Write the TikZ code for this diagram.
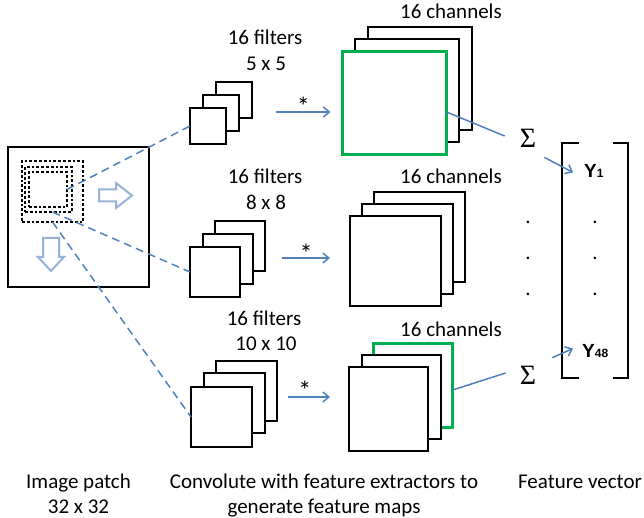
\documentclass[tikz,border=0pt]{standalone}
\usepackage{fontspec}
\setmainfont{Carlito}
\newfontfamily\arialf{Liberation Sans}
\newfontfamily\serf{Liberation Serif}
\usetikzlibrary{arrows.meta,calc}
\definecolor{bline}{RGB}{79,129,189}
\definecolor{gline}{RGB}{0,176,80}
\definecolor{lblue}{RGB}{149,179,215}
\begin{document}
\begin{tikzpicture}[x=1pt,y=-1pt,font=\fontsize{21}{25}\selectfont,
  sq/.style={draw=black,line width=2pt,fill=white,inner sep=0pt,outer sep=0pt},
  gsq/.style={sq,draw=gline,line width=3pt},
  dsq/.style={draw=black,line width=2.8pt,dash pattern=on 2.8pt off 2pt,inner sep=0pt,outer sep=0pt},
  dline/.style={draw=bline,line width=1.5pt,dash pattern=on 8pt off 5pt},
  bl/.style={draw=bline,line width=1.5pt},
  arr/.style={bl,-{Straight Barb[length=6pt,width=10pt]}},
  txt/.style={anchor=base,inner sep=0pt},
  starst/.style={anchor=base,inner sep=0pt,font=\fontsize{26}{26}\selectfont},
  hol/.style={draw=lblue,line width=2pt,line join=miter},
  sumst/.style={font=\serf\fontsize{28}{28}\selectfont,inner sep=0pt},
  yst/.style={anchor=base west,inner sep=0pt,font=\arialf\bfseries\fontsize{19}{19}\selectfont}]
\useasboundingbox (0,0) rectangle (644,518);

% image patch
\node[sq,minimum width=141pt,minimum height=140pt] (patch) at (78.5,217) {};
\node[dsq,minimum width=61pt,minimum height=61pt] (sqA) at (52.5,191.5) {};
\node[dsq,minimum width=47pt,minimum height=45pt] (sqB) at (48.5,189.5) {};
\node[dsq,minimum width=38pt,minimum height=35pt] (sqC) at (48,189.5) {};
\draw[hol] (99,189.5) -- (116,189.5) -- (116,183) -- (132,195.5) -- (116,208) -- (116,201.5) -- (99,201.5) -- cycle;
\draw[hol] (43,238) -- (59,238) -- (59,257) -- (64,257) -- (51,271) -- (38,257) -- (43,257) -- cycle;

% filters
\node[sq,minimum size=36pt] (f1b) at (234,100) {};
\node[sq,minimum size=36pt] (f1m) at (221,113) {};
\node[sq,minimum size=36pt] (f1f) at (208,126) {};
\node[sq,minimum size=50pt] (f2b) at (240,246) {};
\node[sq,minimum size=50pt] (f2m) at (228,259) {};
\node[sq,minimum size=50pt] (f2f) at (215,272) {};
\node[sq,minimum width=61pt,minimum height=60pt] (f3b) at (246.5,391) {};
\node[sq,minimum width=61pt,minimum height=60pt] (f3m) at (234,403) {};
\node[sq,minimum width=61pt,minimum height=60pt] (f3f) at (221.5,417) {};

% channels
\node[sq,minimum width=104pt,minimum height=103pt] (c1b) at (419.5,79) {};
\node[sq,minimum width=104pt,minimum height=103pt] (c1m) at (407,91) {};
\node[gsq,minimum width=104pt,minimum height=103pt] (c1f) at (394.5,103) {};
\node[sq,minimum width=91pt,minimum height=90pt] (c2b) at (419,237) {};
\node[sq,minimum width=91pt,minimum height=90pt] (c2m) at (407,249) {};
\node[sq,minimum width=91pt,minimum height=90pt] (c2f) at (395,261) {};
\node[gsq,minimum width=79pt,minimum height=84pt] (c3b) at (413,385) {};
\node[sq,minimum width=79pt,minimum height=84pt] (c3m) at (401,397) {};
\node[sq,minimum width=79pt,minimum height=84pt] (c3f) at (388.5,409) {};

% labels
\node[txt] (l1a) at (265,45) {16 filters};
\node[txt] (l1b) at (266,71) {5 x 5};
\node[txt] (l2a) at (265,184) {16 filters};
\node[txt] (l2b) at (266,210) {8 x 8};
\node[txt] (l3a) at (264,325) {16 filters};
\node[txt] (l3b) at (266,350) {10 x 10};
\node[txt] (ch1) at (451,19) {16 channels};
\node[txt] (ch2) at (451,184) {16 channels};
\node[txt] (ch3) at (451,336) {16 channels};
\node[txt] (b1a) at (78.5,488) {Image patch};
\node[txt] (b1b) at (78.5,513) {32 x 32};
\node[txt] (b2a) at (324,488) {Convolute with feature extractors to};
\node[txt] (b2b) at (324,513) {generate feature maps};
\node[txt] (b3a) at (580,488) {Feature vector};

% sums and vector
\node[sumst] (sum1) at (528,138) {Σ};
\node[sumst] (sum3) at (528,375) {Σ};
\node[txt] (d1) at (528,224) {.};
\node[txt] (d2) at (528,259) {.};
\node[txt] (d3) at (528,295) {.};
\node[txt] (e1) at (595,224) {.};
\node[txt] (e2) at (595,259) {.};
\node[txt] (e3) at (595,295) {.};
\node[yst] (y1) at (584,178) {Y{\fontsize{12}{12}\selectfont 1}};
\node[yst] (y48) at (582,357) {Y{\fontsize{12}{12}\selectfont 48}};
\draw[line width=2pt] (579,143) -- (562,143) -- (562,378) -- (579,378);
\draw[line width=2pt] (613,143) -- (628,143) -- (628,378) -- (613,378);

% connectors
\draw[dline] (sqC.east) -- (f1f.west);
\draw[dline] ([xshift=4pt]sqB.south) -- (f2f.west);
\draw[dline] (sqA.south) -- (f3f.west);
\draw[arr] ($(f1b.east)+(24,12)$) -- node[starst,pos=.5,yshift=-4pt] (s1) {*} ($(c1f.west)+(-12,9)$);
\draw[arr] ($(f2b.east)+(17,12)$) -- node[starst,pos=.5,yshift=-4pt] (s2) {*} ($(c2f.west)+(-19.5,-3)$);
\draw[arr] ($(f3b.east)+(11,6)$) -- node[starst,pos=.4,yshift=-2pt] (s3) {*} ($(c3f.west)+(-19,-12)$);
\draw[bl] ($(c1f.east)+(0,9)$) -- ($(sum1.west)+(-15,-2)$);
\draw[arr] ($(sum1.south east)+(8,10)$) -- ($(y1.west)+(-11,1)$);
\draw[bl] ($(c3b.east)+(0,5)$) -- ($(sum3.west)+(-14,-2)$);
\draw[arr] ($(sum3.north east)+(16,-8)$) -- ($(y48.west)+(-9,-2)$);
\end{tikzpicture}
\end{document}
